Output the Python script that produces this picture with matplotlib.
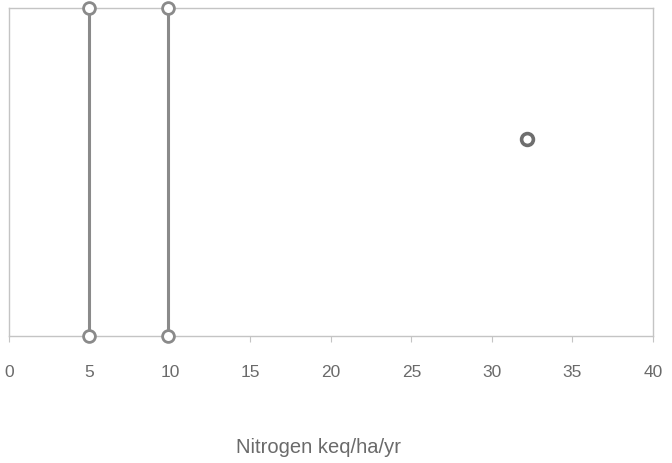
import matplotlib
matplotlib.use("Agg")
import matplotlib.pyplot as plt

plt.rcParams['font.family'] = ['Liberation Sans', 'DejaVu Sans']

# data
line_x = [4.95, 9.9]
line_y = [0.0, 1.0]
point_x = [32.2]
point_y = [0.6]
xticks = [0, 5, 10, 15, 20, 25, 30, 35, 40]
xlabel = "Nitrogen keq/ha/yr"

fig = plt.figure(figsize=(6.72, 4.63), dpi=100)
ax = fig.add_axes([0.0134, 0.274, 0.9583, 0.709])

for x in line_x:
    ax.plot([x, x], line_y, color='#8a8a8a', lw=2.2, marker='o', ms=8.5,
            mfc='white', mec='#8a8a8a', mew=2.0, clip_on=False, zorder=3)
ax.plot(point_x, point_y, ls='none', marker='o', ms=8.5, mfc='white',
        mec='#6e6e6e', mew=2.6, zorder=3)

ax.set_xlim(0, 40)
ax.set_ylim(0, 1)
ax.set_xticks(xticks)
ax.set_xticklabels([str(t) for t in xticks])
ax.set_yticks([])
for s in ax.spines.values():
    s.set_color('#c4c4c4')
    s.set_linewidth(1.0)
ax.tick_params(axis='x', direction='out', length=4, color='#c4c4c4',
               pad=17, labelsize=12.5, labelcolor='#6a6a6a')
ax.set_xlabel(xlabel, fontsize=14.5, color='#6a6a6a')
ax.xaxis.set_label_coords(0.48, -0.338, transform=ax.transAxes)
ax.xaxis.label.set_va('center')

fig.savefig("out.png", dpi=100, facecolor='white')
